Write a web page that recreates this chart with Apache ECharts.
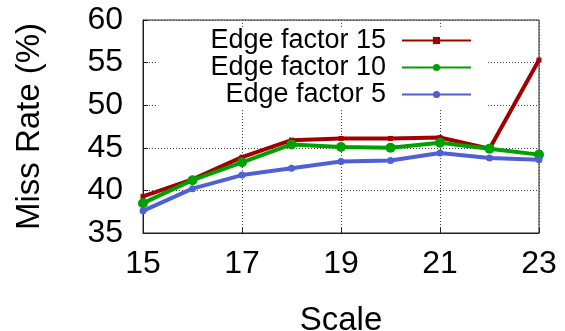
<!DOCTYPE html>
<html>
<head>
<meta charset="utf-8">
<script src="https://cdn.jsdelivr.net/npm/echarts@6/dist/echarts.min.js"></script>
<style>
  html, body { margin: 0; padding: 0; background: #fff; }
  #chart { width: 565px; height: 331px; }
</style>
</head>
<body>
<div id="chart"></div>
<script>
// Graph scale (log2 of vertex count) on the x axis
const scales = [15, 16, 17, 18, 19, 20, 21, 22, 23];

// Miss rate (%) per edge factor
const edgeFactor15 = [39.3, 41.3, 43.9, 45.9, 46.1, 46.1, 46.2, 44.9, 55.3];
const edgeFactor10 = [38.5, 41.2, 43.3, 45.4, 45.1, 45.0, 45.6, 44.9, 44.2];
const edgeFactor5  = [37.6, 40.2, 41.8, 42.6, 43.4, 43.5, 44.4, 43.8, 43.6];

const seriesNames = ['Edge factor 15', 'Edge factor 10', 'Edge factor 5'];
const xTicks = [15, 17, 19, 21, 23];
const yTicks = [35, 40, 45, 50, 55, 60];

const pairs = vals => scales.map((s, i) => [s, vals[i]]);

const FONT = '"Liberation Sans", Arial, sans-serif';
const chart = echarts.init(document.getElementById('chart'), null, { renderer: 'canvas' });

chart.setOption({
  animation: false,
  backgroundColor: '#fff',
  grid: {
    left: 143, right: 26, top: 20, bottom: 98,
    outerBoundsMode: 'none',
    containLabel: false,
    show: true, borderColor: '#222', borderWidth: 1, backgroundColor: 'transparent'
  },
  legend: {
    data: seriesNames,
    orient: 'vertical',
    align: 'right',
    top: 27,
    right: 78,
    padding: [0, 15, 0, 52],
    itemGap: 0,
    itemWidth: 69,
    itemHeight: 9,
    backgroundColor: '#fff',
    textStyle: {
      fontFamily: FONT, fontSize: 27, color: '#000',
      padding: [0, 11, 0, 0]
    }
  },
  xAxis: {
    type: 'value',
    min: xTicks[0], max: xTicks[xTicks.length - 1], interval: 2,
    name: 'Scale', nameLocation: 'middle', nameGap: 71,
    nameTextStyle: { fontFamily: FONT, fontSize: 33, color: '#000' },
    axisLine: { show: true, lineStyle: { color: '#222', width: 1 } },
    axisTick: { show: true, inside: true, length: 5, lineStyle: { color: '#222' } },
    axisLabel: { fontFamily: FONT, fontSize: 32, color: '#000', margin: 15 },
    splitLine: { show: true, lineStyle: { type: [1, 2], color: '#444', width: 1 } }
  },
  yAxis: {
    type: 'value',
    min: yTicks[0], max: yTicks[yTicks.length - 1], interval: 5,
    name: 'Miss Rate (%)', nameLocation: 'middle', nameGap: 97, nameRotate: 90,
    nameTextStyle: { fontFamily: FONT, fontSize: 33, color: '#000' },
    axisLine: { show: true, lineStyle: { color: '#222', width: 1 } },
    axisTick: { show: true, inside: true, length: 5, lineStyle: { color: '#222' } },
    axisLabel: { fontFamily: FONT, fontSize: 32, color: '#000', margin: 20 },
    splitLine: { show: true, lineStyle: { type: [1, 2], color: '#444', width: 1 } }
  },
  series: [
    {
      name: seriesNames[0], type: 'line', data: pairs(edgeFactor15),
      color: '#a00000', lineStyle: { width: 4 },
      symbol: 'rect', symbolSize: 5, showSymbol: true
    },
    {
      name: seriesNames[1], type: 'line', data: pairs(edgeFactor10),
      color: '#00a000', lineStyle: { width: 4 },
      symbol: 'circle', symbolSize: 10, showSymbol: true
    },
    {
      name: seriesNames[2], type: 'line', data: pairs(edgeFactor5),
      color: '#5060d4', lineStyle: { width: 4 },
      symbol: 'circle', symbolSize: 7, showSymbol: true
    }
  ]
});
</script>
</body>
</html>
